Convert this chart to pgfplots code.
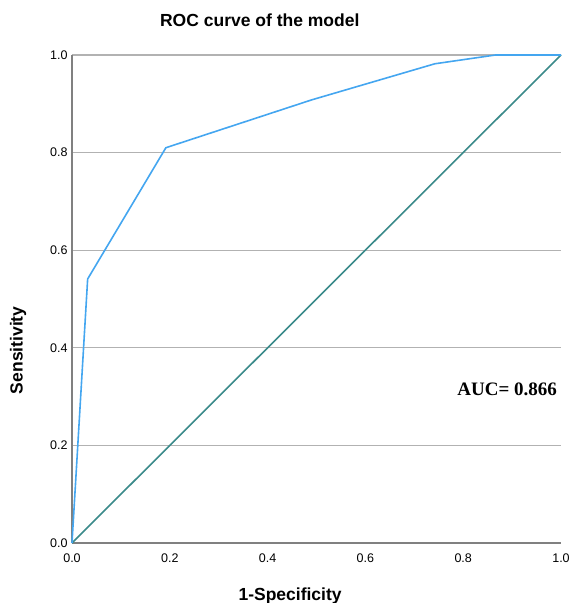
\documentclass[border=0pt]{standalone}
\usepackage{fontspec}
\setmainfont{Liberation Sans}
\newfontfamily\timesfont{Liberation Serif}
\usepackage{pgfplots}
\pgfplotsset{compat=1.18}
\definecolor{rocblue}{HTML}{44A6F0}
\definecolor{refteal}{HTML}{3A8A8A}

\begin{document}
\begin{tikzpicture}
\begin{axis}[
  scale only axis, width=489pt, height=488pt,
  xmin=0, xmax=1, ymin=0, ymax=1,
  axis lines*=left,
  axis line style={draw=black!50, line width=1.2pt},
  major tick length=0pt,
  xtick={0,0.2,0.4,0.6,0.8,1}, ytick={0,0.2,0.4,0.6,0.8,1},
  xticklabel={\pgfmathprintnumber[fixed,fixed zerofill,precision=1]{\tick}},
  yticklabel={\pgfmathprintnumber[fixed,fixed zerofill,precision=1]{\tick}},
  /pgf/number format/assume math mode=true,
  tick label style={font=\fontsize{12.5}{14}\selectfont},
  xticklabel style={yshift=-7pt},
  yticklabel style={xshift=-1pt},
  ymajorgrids, grid style={black!30, line width=1.1pt},
  title={ROC curve of the model},
  title style={at={(axis description cs:0.384,1.059)}, anchor=center,
    font=\fontsize{17.5}{20}\selectfont\bfseries},
  xlabel={1-Specificity},
  xlabel style={at={(axis description cs:0.446,-0.109)}, anchor=center,
    font=\fontsize{17.5}{20}\selectfont\bfseries},
  ylabel={Sensitivity},
  ylabel style={at={(axis description cs:-0.110,0.395)}, anchor=center,
    font=\fontsize{17.5}{20}\selectfont\bfseries},
  clip=false,
]
\addplot[refteal, line width=1.6pt] coordinates {(0,0)(1,1)};
\addplot[rocblue, line width=1.6pt] coordinates {
  (0,0)(0.032,0.541)(0.192,0.81)(0.49,0.908)(0.742,0.982)(0.866,1)(1,1)};
\node[font=\timesfont\fontsize{19}{22}\selectfont\bfseries, anchor=center]
  at (axis cs:0.89,0.314) {AUC= 0.866};
\end{axis}
\pgfresetboundingbox
\path ([xshift=-72pt,yshift=-60pt]current axis.south west)
  rectangle ([xshift=10pt,yshift=55pt]current axis.north east);
\end{tikzpicture}
\end{document}
